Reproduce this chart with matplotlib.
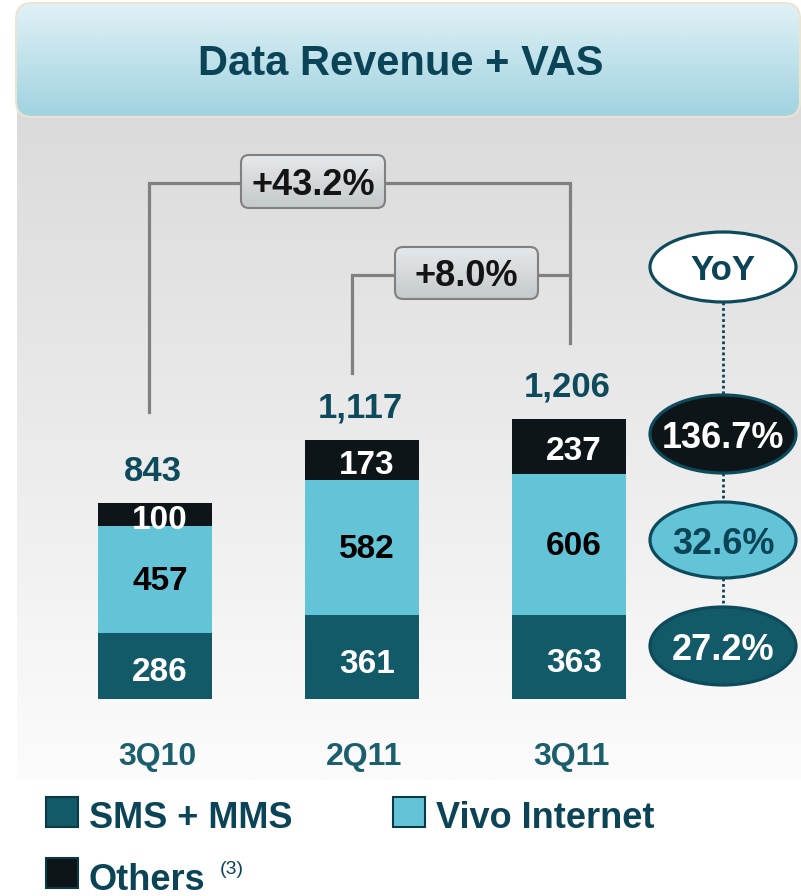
import numpy as np
import matplotlib
matplotlib.use("Agg")
import matplotlib.pyplot as plt
from matplotlib.patches import FancyBboxPatch, Ellipse, Rectangle
from matplotlib.colors import to_rgb

plt.rcParams['font.family'] = ['Liberation Sans', 'DejaVu Sans']

# data
quarters = ['3Q10', '2Q11', '3Q11']
sms_mms = [286, 361, 363]
vivo_internet = [457, 582, 606]
others = [100, 173, 237]
totals = [843, 1117, 1206]
growth_labels = ['+43.2%', '+8.0%']
yoy_labels = ['136.7%', '32.6%', '27.2%']

c_sms = '#135a68'
c_net = '#63c3d7'
c_oth = '#0d1519'
c_txt = '#0b4457'

fig = plt.figure(figsize=(8.01, 8.96), dpi=100)
fig.patch.set_facecolor('white')

# background axes in pixel units
bg = fig.add_axes([0, 0, 1, 1])
bg.set_xlim(0, 801)
bg.set_ylim(896, 0)
bg.axis('off')

def vgrad(top, bot, n=256):
    a = np.array(to_rgb(top))
    b = np.array(to_rgb(bot))
    t = np.linspace(0, 1, n)[:, None]
    return (a + (b - a) * t)[:, None, :]

# gray panel
bg.imshow(vgrad('#d8d8d8', '#fcfcfc'), extent=(17, 801, 780, 60), aspect='auto', origin='upper', zorder=0)

# title banner
banner = FancyBboxPatch((16, 3), 784, 114, boxstyle="round,pad=0,rounding_size=16",
                        facecolor='none', edgecolor='#ebe4d3', lw=1.5, zorder=3)
bg.add_patch(banner)
im = bg.imshow(vgrad('#e0f1f6', '#a0d3e0'), extent=(16, 800, 117, 3), aspect='auto', origin='upper', zorder=2)
im.set_clip_path(banner)
bg.text(401, 64, 'Data Revenue + VAS', fontsize=30, fontweight='bold', color=c_txt,
        ha='center', va='center', zorder=4)

# growth brackets
gray = '#808080'
bg.plot([149, 149, 570, 570], [412, 183, 183, 343], color=gray, lw=2.3, solid_joinstyle='miter', zorder=2)
bg.plot([352, 352, 570], [373, 275, 275], color=gray, lw=2.3, solid_joinstyle='miter', zorder=2)
boxes = [(241, 155, 144, 53), (395, 247, 143, 52)]
for (bx, by, bw, bh), lab in zip(boxes, growth_labels):
    p = FancyBboxPatch((bx, by), bw, bh, boxstyle="round,pad=0,rounding_size=8",
                       facecolor='none', edgecolor=gray, lw=1.5, zorder=4)
    bg.add_patch(p)
    g = bg.imshow(vgrad('#e6e9eb', '#c4c9cc'), extent=(bx, bx + bw, by + bh, by), aspect='auto',
                  origin='upper', zorder=3)
    g.set_clip_path(p)
    bg.text(bx + bw / 2, by + bh / 2 + 4, lab, fontsize=26, fontweight='bold', color='#141414',
            ha='center', va='center', zorder=5)

# YoY ovals
ox = 723
oval_y = [267, 434, 540, 646]
oval_h = [70, 78, 76, 78]
oval_fc = ['white', c_oth, c_net, c_sms]
oval_tc = [c_txt, 'white', c_txt, 'white']
oval_txt = ['YoY'] + yoy_labels
for i in range(3):
    bg.plot([ox, ox], [oval_y[i] + oval_h[i] / 2, oval_y[i + 1] - oval_h[i + 1] / 2],
            color=c_txt, lw=2, ls=(0, (1, 1)), zorder=2)
for y, h, fc, tc, t in zip(oval_y, oval_h, oval_fc, oval_tc, oval_txt):
    bg.add_patch(Ellipse((ox, y), 146, h, facecolor=fc, edgecolor='#0d4a5c', lw=2.3, zorder=3))
    bg.text(ox, y + 4, t, fontsize=26 if t != 'YoY' else 25, fontweight='bold', color=tc,
            ha='center', va='center', zorder=4)

# legend
leg = [(46, 797, c_sms, 'SMS + MMS'), (393, 797, c_net, 'Vivo Internet'), (46, 858, c_oth, 'Others')]
for lx, ly, fc, lab in leg:
    bg.add_patch(Rectangle((lx, ly), 32, 30, facecolor=fc, edgecolor='#0b3a47', lw=1.5, zorder=3))
    bg.text(lx + 43, ly + 22, lab, fontsize=26, fontweight='bold', color=c_txt, ha='left', va='center')
bg.text(220, 869, '(3)', fontsize=14, color=c_txt, ha='left', va='center')

# bars in data units
base, scale = 699, 0.2325
ax = fig.add_axes([0, 0, 1, 1])
ax.set_xlim(-155 / 207, (801 - 155) / 207)
ax.set_ylim(-(896 - base) / scale, base / scale)
ax.axis('off')
ax.patch.set_alpha(0)

x = np.arange(len(quarters))
w = 0.551
b2 = np.array(sms_mms) + np.array(vivo_internet)
ax.bar(x, sms_mms, w, color=c_sms)
ax.bar(x, vivo_internet, w, bottom=sms_mms, color=c_net)
ax.bar(x, others, w, bottom=b2, color=c_oth)

for i in x:
    ax.text(i + 0.025, sms_mms[i] / 2 - 30, str(sms_mms[i]), fontsize=24, fontweight='bold',
            color='white', ha='center', va='center')
    ax.text(i + 0.025, sms_mms[i] + vivo_internet[i] / 2 - 10, str(vivo_internet[i]), fontsize=24,
            fontweight='bold', color='black', ha='center', va='center')
    ax.text(i + 0.025, b2[i] + others[i] / 2 - 25, str(others[i]), fontsize=24, fontweight='bold',
            color='white', ha='center', va='center')
    ax.text(i - 0.01, totals[i] + 135, f'{totals[i]:,}', fontsize=25, fontweight='bold',
            color='#0d4a5c', ha='center', va='center')
    ax.text(i + 0.01, -250, quarters[i], fontsize=23, fontweight='bold', color='#1b5e6d',
            ha='center', va='center')

fig.savefig('out.png', dpi=100)
